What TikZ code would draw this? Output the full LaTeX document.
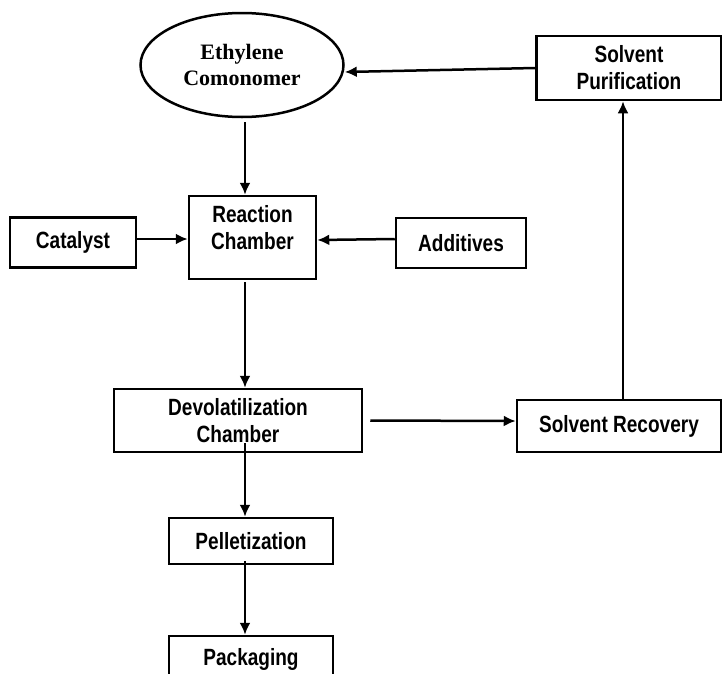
\documentclass[tikz,border=0pt]{standalone}
\usepackage{fontspec}
\usepackage{tikz}
\usetikzlibrary{arrows.meta,shapes.geometric}
\newfontfamily\boxfont[FakeStretch=0.81]{Liberation Sans}
\newfontfamily\ovalfont{Liberation Serif}

\begin{document}
\begin{tikzpicture}[->,>={Latex[length=12pt,width=11pt]},line width=2.5pt,
    main node/.style={rectangle,draw,align=center,inner sep=0pt,
      font=\boxfont\bfseries\fontsize{23.5}{27}\selectfont},
    oval node/.style={ellipse,draw,align=center,inner sep=0pt,
      font=\ovalfont\bfseries\fontsize{22}{26}\selectfont}]
    \clip (-252.5pt,237.5pt) rectangle (469.5pt,-435.5pt);
    \node[main node,minimum width=127pt,minimum height=83pt,text depth=20pt] (react_ch) {Reaction\\Chamber};
    \node[main node,minimum width=126pt,minimum height=50pt] (cat) [left of=react_ch,node distance=179.5pt,yshift=-5pt] {Catalyst};
    \node[main node,minimum width=130pt,minimum height=50pt] (add) [right of=react_ch,node distance=208.5pt,yshift=-5.5pt] {Additives};
    \node[oval node,minimum width=203pt,minimum height=104pt] (eth_mono) [above of=react_ch,node distance=172.5pt,xshift=-10.5pt] {Ethylene\\Comonomer};
    \node[main node,minimum width=185pt,minimum height=64pt] (solv_pur) [right of=eth_mono,node distance=387pt,yshift=-3pt] {Solvent\\Purification};
    \node[main node,minimum width=248pt,minimum height=63pt] (devol_ch) [below of=react_ch,node distance=183pt,xshift=-14.5pt] {Devolatilization\\Chamber};
    \node[main node,minimum width=204pt,minimum height=52pt] (solv_rec) [right of=devol_ch,node distance=381pt,yshift=-5.5pt] {Solvent Recovery};
    \node[main node,minimum width=164pt,minimum height=46pt] (pellet) [below of=devol_ch,node distance=120.5pt,xshift=13pt] {Pelletization};
    \node[main node,minimum width=164pt,minimum height=46pt] (pack) [below of=pellet,node distance=118pt] {Packaging};
    % feeds into the reactor
    \draw ([xshift=3pt,yshift=-4pt]eth_mono.south) -- ([xshift=-7.5pt]react_ch.north);
    \draw ([yshift=3.5pt]cat.east) -- ([yshift=-1.5pt]react_ch.west);
    \draw ([yshift=4pt]add.west) -- ([yshift=-2.5pt]react_ch.east);
    % main line down
    \draw ([xshift=-7.5pt,yshift=-2pt]react_ch.south) -- ([xshift=7pt]devol_ch.north);
    \draw ([xshift=7pt,yshift=10pt]devol_ch.south) -- ([xshift=-6pt]pellet.north);
    \draw ([xshift=-6pt,yshift=4pt]pellet.south) -- ([xshift=-6pt]pack.north);
    % solvent loop
    \draw ([xshift=7pt]devol_ch.east) -- ([yshift=5pt]solv_rec.west);
    \draw ([xshift=4pt]solv_rec.north) -- ([xshift=-6pt]solv_pur.south);
    \draw (solv_pur.west) -- ([yshift=-7pt]eth_mono.east);
\end{tikzpicture}
\end{document}
